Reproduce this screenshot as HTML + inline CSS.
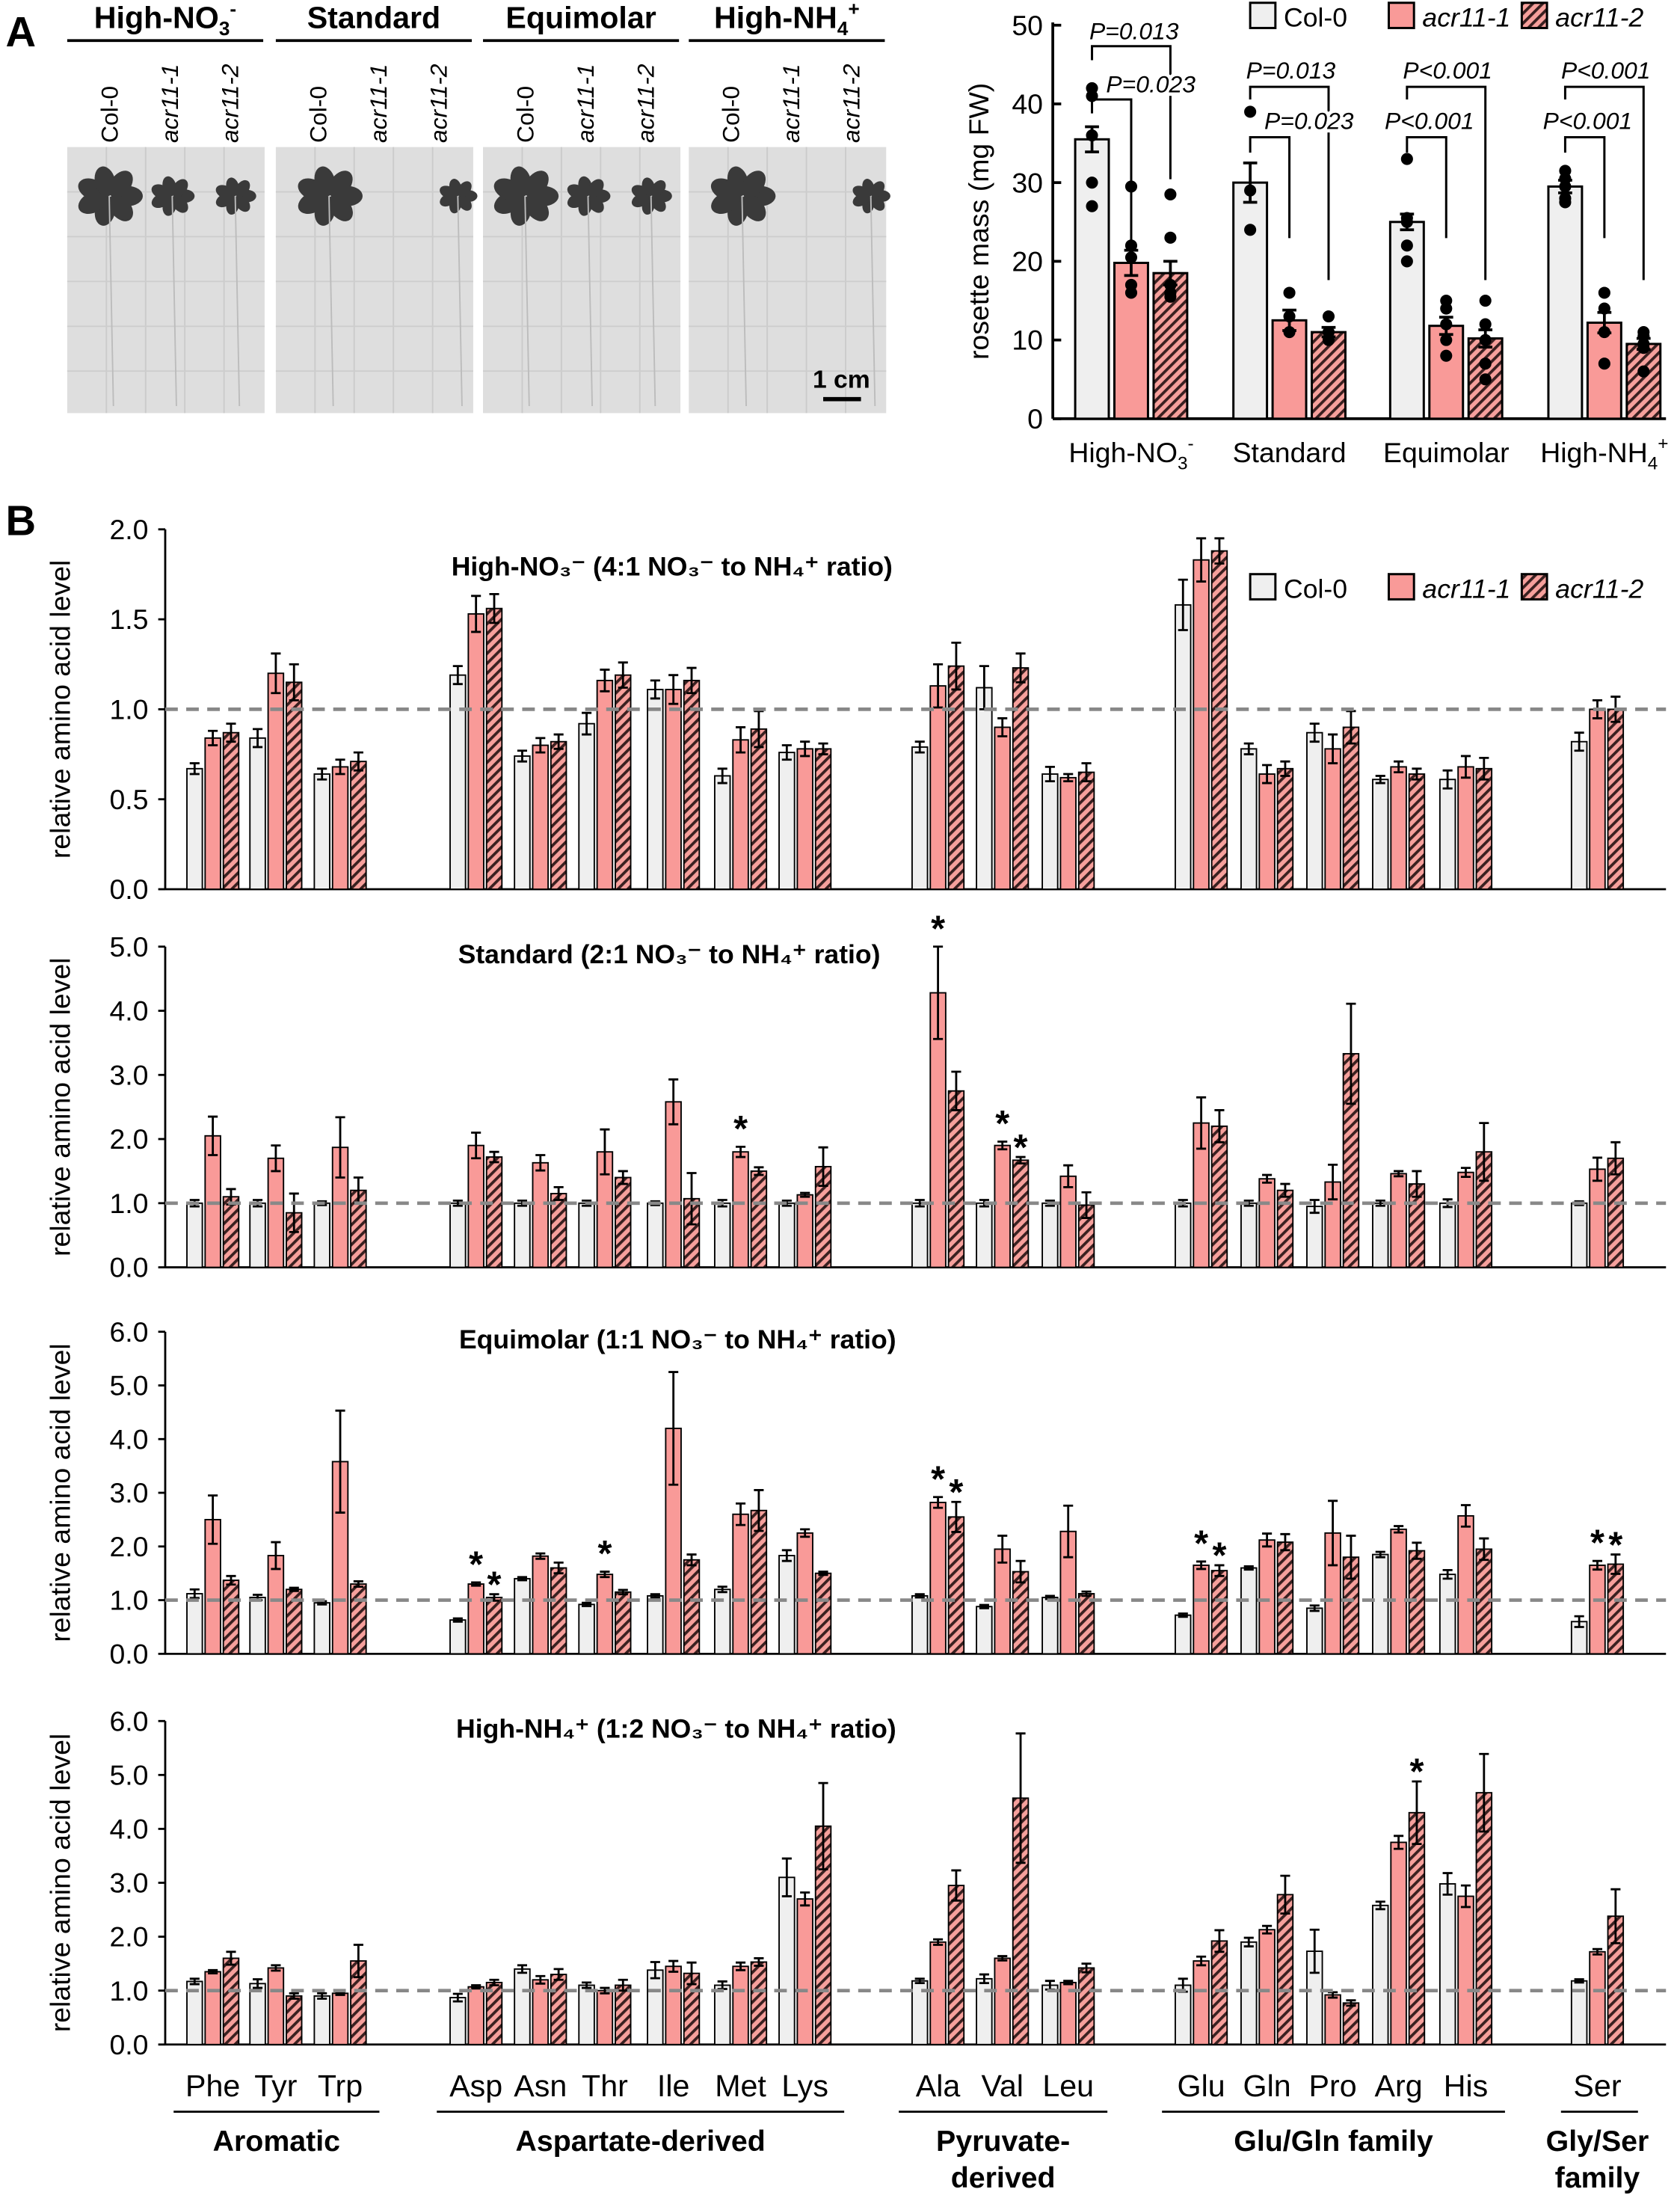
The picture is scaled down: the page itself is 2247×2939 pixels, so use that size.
<!DOCTYPE html>
<html><head><meta charset="utf-8">
<style>
html,body{margin:0;padding:0;background:#fff;}
svg{display:block;font-family:"Liberation Sans",Arial,sans-serif;}
</style></head>
<body>
<svg id="fig" xmlns="http://www.w3.org/2000/svg" width="2247" height="2939" viewBox="0 0 1200 1569.6">
<defs>
<pattern id="hatch" patternUnits="userSpaceOnUse" width="5" height="5" patternTransform="rotate(45)">
<rect width="5" height="5" fill="#f6a09c"/>
<rect width="2" height="5" fill="#3a2020"/>
</pattern>
</defs>
<g id="panelA">
<text x="4" y="33" font-size="30" font-weight="bold">A</text>
</g>
<g id="panelAchart"></g>
<g id="panelB">
<text x="4" y="382" font-size="30" font-weight="bold">B</text>
</g>
</svg>
<script>
const NS="http://www.w3.org/2000/svg";
// ---------- Panel A data ----------
const aConditions=["High-NO3-","Standard","Equimolar","High-NH4+"];
const aMeans=[[35.5,19.8,18.5],[30,12.5,11],[25,11.8,10.2],[29.5,12.2,9.5]];
const aErr=[[1.6,1.6,1.5],[2.5,1.3,0.6],[1.0,1.1,1.1],[0.8,1.3,0.7]];
const aDots=[[[42,41,30,27,36],[29.5,22,20.5,17,16],[28.5,23,17,15.5,16]],[[39,29,24],[16,13,11],[13,11,10]],[[33,25.5,22,20,25],[15,14,12,10,8],[15,12,10,7,5]],[[31.5,30.5,29.5,28,27.5],[16,14,11,7],[11,10.5,9.5,9,6]]];
const aTicks=[0,10,20,30,40,50];
// ---------- Panel B data ----------
const aminoAcids=["Phe","Tyr","Trp","Asp","Asn","Thr","Ile","Met","Lys","Ala","Val","Leu","Glu","Gln","Pro","Arg","His","Ser"];
const hno3Col0=[.67,.84,.64,1.19,.74,.92,1.11,.63,.76,.79,1.12,.64,1.58,.78,.87,.61,.61,.82];
const hno3Acr1=[.84,1.2,.68,1.53,.8,1.16,1.11,.83,.78,1.13,.9,.62,1.83,.64,.78,.68,.68,1.0];
const hno3Acr2=[.87,1.15,.71,1.56,.82,1.19,1.16,.89,.78,1.24,1.23,.65,1.88,.67,.9,.64,.67,1.0];
const stdCol0=[1,1,1,1,1,1,1,1,1,1,1,1,1,1,.95,1,1,1];
const stdAcr1=[2.05,1.7,1.87,1.9,1.63,1.8,2.58,1.8,1.13,4.28,1.9,1.42,2.25,1.38,1.33,1.46,1.48,1.53];
const stdAcr2=[1.1,.85,1.2,1.72,1.15,1.4,1.07,1.5,1.57,2.75,1.67,.97,2.2,1.2,3.33,1.3,1.8,1.7];
const eqCol0=[1.12,1.05,.95,.63,1.4,.92,1.08,1.2,1.83,1.08,.88,1.05,.72,1.6,.85,1.85,1.48,.6];
const eqAcr1=[2.5,1.83,3.58,1.3,1.82,1.48,4.2,2.6,2.25,2.82,1.95,2.28,1.65,2.12,2.25,2.32,2.57,1.65];
const eqAcr2=[1.37,1.2,1.3,1.05,1.6,1.15,1.75,2.67,1.5,2.55,1.53,1.12,1.55,2.08,1.8,1.92,1.95,1.67];
const nh4Col0=[1.17,1.13,.9,.87,1.4,1.1,1.38,1.1,3.1,1.18,1.22,1.1,1.1,1.9,1.73,2.58,2.98,1.18];
const nh4Acr1=[1.35,1.42,.95,1.07,1.2,1.0,1.45,1.45,2.7,1.9,1.6,1.15,1.55,2.13,.92,3.75,2.75,1.72];
const nh4Acr2=[1.6,.9,1.55,1.15,1.3,1.1,1.32,1.53,4.05,2.95,4.57,1.42,1.92,2.78,.77,4.3,4.67,2.38];
const hno3Err=[[.03,.05,.03,.05,.03,.06,.05,.04,.04,.03,.12,.04,.14,.03,.05,.02,.05,.05],[.04,.11,.04,.1,.04,.06,.08,.07,.04,.12,.05,.02,.12,.05,.08,.03,.06,.05],[.05,.1,.05,.08,.04,.07,.07,.1,.03,.13,.08,.05,.07,.04,.09,.03,.06,.07]];
const stdErr=[[.05,.05,.03,.04,.04,.04,.03,.05,.04,.05,.05,.04,.05,.04,.1,.04,.06,.03],[.3,.2,.47,.2,.12,.35,.35,.08,.03,.72,.06,.17,.4,.06,.27,.04,.07,.18],[.12,.3,.2,.08,.1,.1,.4,.06,.3,.3,.05,.2,.25,.1,.78,.2,.45,.25]];
const eqErr=[[.08,.05,.03,.03,.03,.03,.03,.05,.1,.03,.03,.03,.03,.03,.05,.05,.08,.1],[.45,.25,.95,.03,.05,.05,1.05,.2,.07,.1,.25,.48,.07,.12,.6,.06,.2,.08],[.08,.03,.05,.06,.1,.04,.1,.38,.03,.28,.2,.04,.1,.15,.4,.15,.2,.18]];
const nh4Err=[[.05,.08,.05,.07,.07,.05,.15,.07,.35,.04,.08,.08,.12,.08,.4,.07,.2,.03],[.03,.05,.03,.03,.07,.05,.1,.07,.12,.05,.04,.03,.08,.07,.05,.12,.2,.05],[.12,.05,.3,.05,.1,.1,.2,.07,.8,.28,1.2,.08,.2,.35,.05,.58,.72,.5]];
const chartTitles=["High-NO₃⁻ (4:1 NO₃⁻ to NH₄⁺ ratio)","Standard (2:1 NO₃⁻ to NH₄⁺ ratio)","Equimolar (1:1 NO₃⁻ to NH₄⁺ ratio)","High-NH₄⁺ (1:2 NO₃⁻ to NH₄⁺ ratio)"];
const chartMax=[2.0,5.0,6.0,6.0];
const chartStep=[0.5,1,1,1];
// stars: [chart, aminoIdx, series]
const stars=[[1,7,1],[1,9,1],[1,10,1],[1,10,2],[2,3,1],[2,3,2],[2,5,1],[2,9,1],[2,9,2],[2,12,1],[2,12,2],[2,17,1],[2,17,2],[3,15,2]];
const families=[["Aromatic",""],["Aspartate-derived",""],["Pyruvate-","derived"],["Glu/Gln family",""],["Gly/Ser","family"]];
const familyMembers=[[0,2],[3,8],[9,11],[12,16],[17,17]];

function el(tag,attrs,parent,text){const e=document.createElementNS(NS,tag);for(const k in attrs)e.setAttribute(k,attrs[k]);if(text!==undefined)e.textContent=text;parent.appendChild(e);return e;}
const fills=["#efefef","#f99a98","url(#hatch)"];

// ---------- Panel A photos ----------
const pA=document.getElementById("panelA");
const condHdr=[["High-NO",'3','-'],["Standard"],["Equimolar"],["High-NH",'4','+']];
const photoX=[48,197,345,492];
photoX.forEach((x,i)=>{
  const g=el("g",{},pA);
  
  
  const t=el("text",{x:x+70,y:20,"font-size":22,"font-weight":"bold","text-anchor":"middle"},g);
  
  
  const h=condHdr[i];
  el("tspan",{},t,h[0]);
  if(h.length>1){el("tspan",{dy:5,"font-size":14},t,h[1]);el("tspan",{dy:-14,"font-size":14},t,h[2]);}
  el("line",{x1:x,x2:x+140,y1:29,y2:29,stroke:"#000","stroke-width":2},g);
  ["Col-0","acr11-1","acr11-2"].forEach((n,j)=>{
    const lt=el("text",{transform:`translate(${x+36+j*43},102) rotate(-90)`,"font-size":17,"font-style":j?"italic":"normal"},g,n);
    
    
  });
  el("rect",{x:x,y:105,width:141,height:190,fill:"#dedede"},g);
  for(let k=1;k<5;k++)el("line",{x1:x+k*28,x2:x+k*28,y1:105,y2:295,stroke:"#cbcbcb","stroke-width":1},g);
  for(let k=1;k<6;k++)el("line",{x1:x,x2:x+141,y1:105+k*32,y2:105+k*32,stroke:"#cdcdcd","stroke-width":1},g);
  const sizes=i===1||i===3?[24,0,14]:[24,16,15];
  sizes.forEach((s,j)=>{ if(s){ const cx=x+30+j*45+(i===1||i===3?(j?10:8):0), cy=140;
    for(let l=0;l<7;l++){const a=l/7*6.28;el("ellipse",{cx:cx+Math.cos(a)*s*0.55,cy:cy+Math.sin(a)*s*0.45,rx:s*0.45,ry:s*0.3,transform:`rotate(${a*57} ${cx+Math.cos(a)*s*0.55} ${cy+Math.sin(a)*s*0.45})`,fill:"#3a3a3a"},g);}
    el("line",{x1:cx,x2:cx+3,y1:cy,y2:290,stroke:"#bcbcbc","stroke-width":1},g);}});
});
const sb=el("text",{x:601,y:277,"font-size":18,"font-weight":"bold","text-anchor":"middle"},pA,"1 cm");

el("line",{x1:588,x2:615,y1:285,y2:285,stroke:"#000","stroke-width":3},pA);

// ---------- Panel A chart ----------
const ac=document.getElementById("panelAchart");
const aY=v=>299-v*(281/50);
const aGroupX=[780,893,1005,1118];
el("line",{x1:752,x2:752,y1:16,y2:299,stroke:"#000","stroke-width":2},ac);
el("line",{x1:752,x2:1190,y1:299,y2:299,stroke:"#000","stroke-width":2},ac);
aTicks.forEach(t=>{el("line",{x1:752,x2:758,y1:aY(t),y2:aY(t),stroke:"#000","stroke-width":2},ac);
  const tt=el("text",{x:745,y:aY(t)+7,"font-size":20,"text-anchor":"end"},ac,t);
  });
const ayt=el("text",{transform:"translate(706,158) rotate(-90)","font-size":20,"text-anchor":"middle"},ac,"rosette mass (mg FW)");

aMeans.forEach((grp,i)=>{
  grp.forEach((v,j)=>{
    const cx=aGroupX[i]+j*28;
    const r=el("rect",{x:cx-12,y:aY(v),width:24,height:299-aY(v),fill:fills[j],stroke:"#000","stroke-width":1.6},ac);
    
    
    const e=aErr[i][j];
    el("path",{d:`M${cx} ${aY(v+e)}V${aY(v-e)}M${cx-5} ${aY(v+e)}H${cx+5}M${cx-5} ${aY(v-e)}H${cx+5}`,stroke:"#000","stroke-width":2,fill:"none"},ac);
    aDots[i][j].forEach(d=>el("circle",{cx:cx,cy:aY(d),r:4.3,fill:"#000"},ac));
  });
  const lab=el("text",{x:aGroupX[i]+28,y:330,"font-size":20,"text-anchor":"middle"},ac);
  
  const h=condHdr[i];el("tspan",{},lab,h[0]);
  if(h.length>1){el("tspan",{dy:5,"font-size":13},lab,h[1]);el("tspan",{dy:-14,"font-size":13},lab,h[2]);}
  // brackets
  const x0=aGroupX[i],x1=x0+28,x2=x0+56;
  const f=i===0;
  const b1y=f?33:62,b1l=f?43:71,b1r=f?128:200;
  const b2y=f?71:98,b2l=f?81:109,b2r=f?173:170;
  el("path",{d:`M${x0} ${b1l}V${b1y}H${x2}V${b1r}`,stroke:"#000","stroke-width":1.6,fill:"none"},ac);
  el("path",{d:`M${x0} ${b2l}V${b2y}H${x1}V${b2r}`,stroke:"#000","stroke-width":1.6,fill:"none"},ac);
  const p1=i<2?"P=0.013":"P<0.001",p2=i<2?"P=0.023":"P<0.001";
  const t1=el("text",{x:f?x0+30:x0+29,y:f?28:56,"font-size":17,"font-style":"italic","text-anchor":"middle"},ac,p1);
  
  const t2=el("text",{x:i<2?x0+42:x0+16,y:f?66:92,"font-size":17,"font-style":"italic","text-anchor":"middle",stroke:"#fff","stroke-width":5,"paint-order":"stroke"},ac,p2);
  
});
function legend(parent,y){
  ["Col-0","acr11-1","acr11-2"].forEach((n,j)=>{
    const x=[893,992,1087][j];
    const g=el("g",{},parent);
    
    
    el("rect",{x:x,y:y-10,width:18,height:18,fill:fills[j],stroke:"#000","stroke-width":1.6},g);
    el("text",{x:x+24,y:y+7,"font-size":19,"font-style":j?"italic":"normal"},g,n);
  });
}
legend(ac,12);

// ---------- Panel B charts ----------
const pB=document.getElementById("panelB");
const aaX=[152,197,243,340,386,432,481,529,575,670,716,763,858,905,952,999,1047,1141];
const chartTop=[378,676,951,1229],chartBot=[635,905,1181,1460];
const allCol0=[hno3Col0,stdCol0,eqCol0,nh4Col0],allA1=[hno3Acr1,stdAcr1,eqAcr1,nh4Acr1],allA2=[hno3Acr2,stdAcr2,eqAcr2,nh4Acr2];
const allErr=[hno3Err,stdErr,eqErr,nh4Err];
const titleX=[480,478,484,483];
for(let c=0;c<4;c++){
  const g=el("g",{},pB);
  
  
  const yS=v=>chartBot[c]-v/chartMax[c]*(chartBot[c]-chartTop[c]);
  el("line",{x1:118,x2:118,y1:chartTop[c],y2:chartBot[c],stroke:"#000","stroke-width":1.5},g);
  el("line",{x1:118,x2:1190,y1:chartBot[c],y2:chartBot[c],stroke:"#000","stroke-width":1.5},g);
  for(let t=0;t<=chartMax[c]+1e-9;t+=chartStep[c]){
    el("line",{x1:113,x2:118,y1:yS(t),y2:yS(t),stroke:"#000","stroke-width":1.5},g);
    const tt=el("text",{x:106,y:yS(t)+7,"font-size":20,"text-anchor":"end"},g,t.toFixed(1));
    
  }
  const yt=el("text",{transform:`translate(50,${(chartTop[c]+chartBot[c])/2}) rotate(-90)`,"font-size":20,"text-anchor":"middle"},g,"relative amino acid level");
  
  const tl=el("text",{x:titleX[c],y:chartTop[c]+(c===0?33:12),"font-size":19,"font-weight":"bold","text-anchor":"middle"},g,chartTitles[c]);
  
  const series=[allCol0[c],allA1[c],allA2[c]];
  aminoAcids.forEach((aa,i)=>{
    series.forEach((s,j)=>{
      const cx=aaX[i]+(j-1)*13,v=s[i],e=allErr[c][j][i];
      const r=el("rect",{x:cx-5.5,y:yS(v),width:11,height:chartBot[c]-yS(v),fill:fills[j],stroke:"#000","stroke-width":1},g);
      
      
      el("path",{d:`M${cx} ${yS(v+e)}V${yS(Math.max(0,v-e))}M${cx-3.5} ${yS(v+e)}H${cx+3.5}M${cx-3.5} ${yS(Math.max(0,v-e))}H${cx+3.5}`,stroke:"#000","stroke-width":1.5,fill:"none"},g);
    });
  });
  el("line",{x1:118,x2:1190,y1:yS(1),y2:yS(1),stroke:"#888","stroke-width":2.5,"stroke-dasharray":"9,6"},g);
  stars.filter(s=>s[0]===c).forEach(s=>{
    const v=series[s[2]][s[1]]+allErr[c][s[2]][s[1]];
    const st=el("text",{x:aaX[s[1]]+(s[2]-1)*13,y:yS(v)-4+(s[2]===2?6:0),"font-size":26,"font-weight":"bold","text-anchor":"middle"},g,"*");
    
  });
  if(c===0)legend(g,420);
}
aminoAcids.forEach((aa,i)=>{
  const t=el("text",{x:aaX[i],y:1497,"font-size":22,"text-anchor":"middle"},pB,aa);
  
});
families.forEach((f,k)=>{
  const a=aaX[familyMembers[k][0]],b=aaX[familyMembers[k][1]],cx=(a+b)/2;
  const x1=k===4?1115:a-28,x2=k===4?1170:b+28;
  el("line",{x1:x1,x2:x2,y1:1508,y2:1508,stroke:"#000","stroke-width":1.5},pB);
  const t=el("text",{x:cx,y:1536,"font-size":21,"font-weight":"bold","text-anchor":"middle"},pB,f[0]);
  
  if(f[1]){const t2=el("text",{x:cx,y:1562,"font-size":21,"font-weight":"bold","text-anchor":"middle"},pB,f[1]);
    }
});
</script>
</body></html>
